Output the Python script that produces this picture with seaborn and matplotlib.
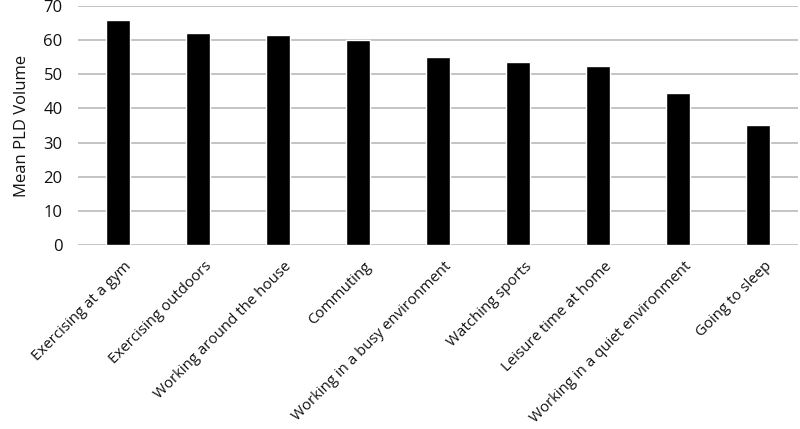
import matplotlib
matplotlib.use("Agg")
import matplotlib.pyplot as plt
import matplotlib.transforms as mtransforms
import seaborn as sns
import pandas as pd

categories = ["Exercising at a gym", "Exercising outdoors", "Working around the house",
              "Commuting", "Working in a busy environment", "Watching sports",
              "Leisure time at home", "Working in a quiet environment", "Going to sleep"]
values = [66.0, 62.0, 61.5, 60.1, 55.0, 53.5, 52.3, 44.4, 35.1]
yticks = [0, 10, 20, 30, 40, 50, 60, 70]

df = pd.DataFrame({"cat": categories, "val": values})

sns.set_theme(style="white")
plt.rcParams["font.family"] = ["Open Sans", "DejaVu Sans"]

fig = plt.figure(figsize=(8, 4.29), dpi=100)
ax = fig.add_axes([78/800, 1 - 245/429, 720/800, (245 - 6)/429])

sns.barplot(data=df, x="cat", y="val", color="black", width=0.31,
            saturation=1, ax=ax, zorder=3)
ax.set_ylim(0, 70)
ax.set_xlim(-0.5, len(categories) - 0.5)
ax.set_yticks(yticks)
ax.set_yticklabels([str(t) for t in yticks], fontsize=12, color="#111111")
ax.yaxis.grid(True, color="#bfbfbf", linewidth=1.3, zorder=0)
ax.set_axisbelow(True)
for s in ax.spines.values():
    s.set_visible(False)
ax.tick_params(axis="y", length=0, pad=11)
ax.set_xlabel("")
ax.set_ylabel("Mean PLD Volume", fontsize=12, color="#111111", labelpad=10)
ax.set_xticks(range(len(categories)))
ax.set_xticklabels(categories, rotation=45, ha="right", va="top",
                   rotation_mode="anchor", fontsize=10.8, color="#111111")
ax.tick_params(axis="x", length=0, pad=10)
offset = mtransforms.ScaledTranslation(6/100, 0, fig.dpi_scale_trans)
for lbl in ax.get_xticklabels():
    lbl.set_transform(lbl.get_transform() + offset)

fig.savefig("out.png", dpi=100)
